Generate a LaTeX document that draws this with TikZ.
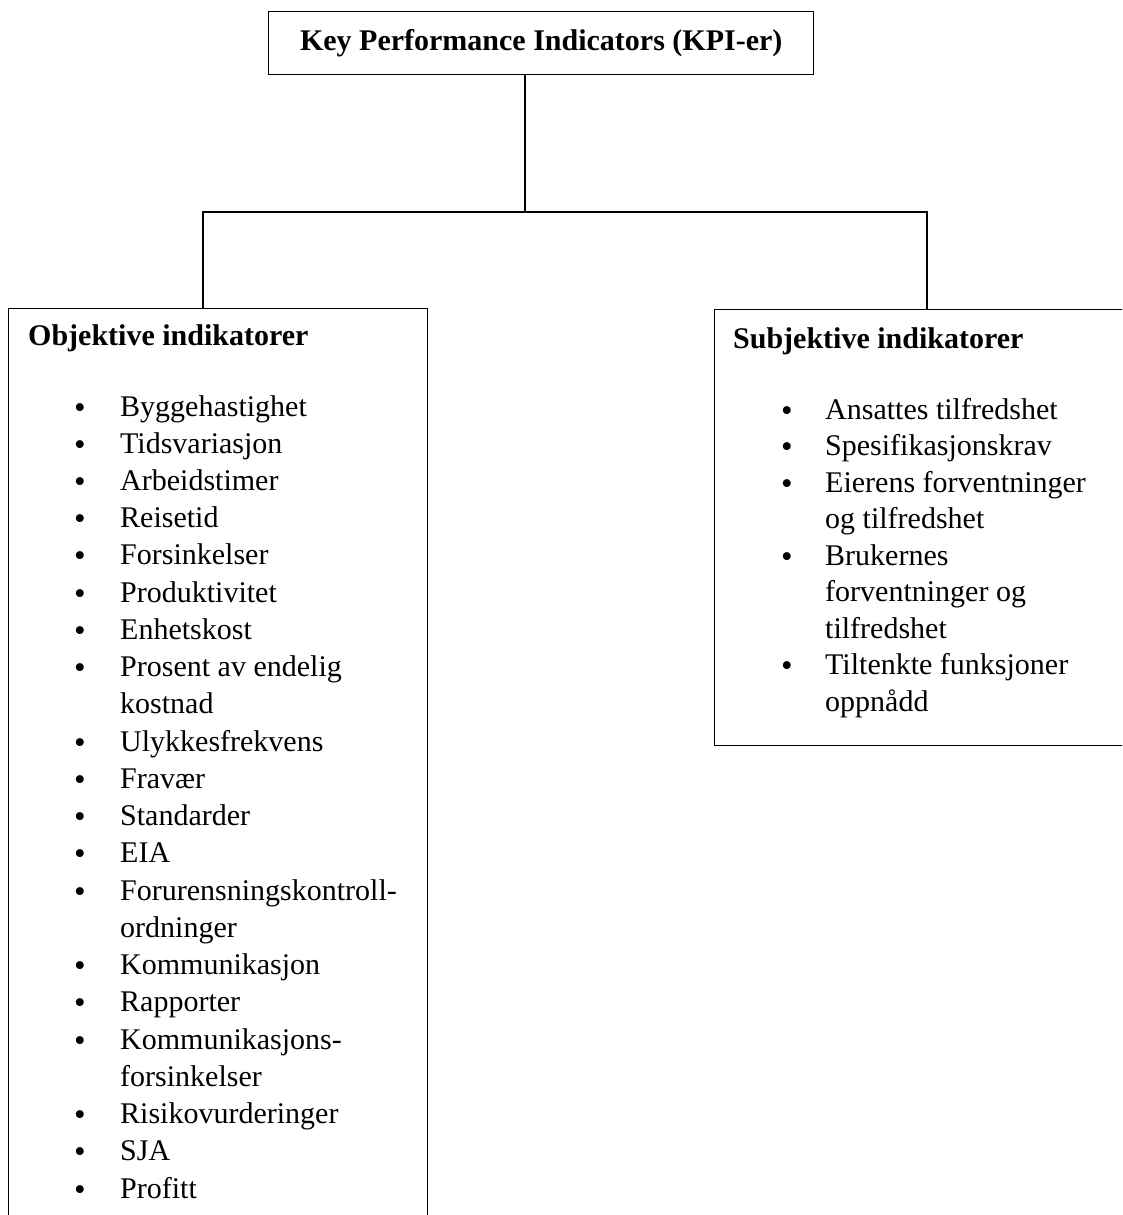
\documentclass[tikz,border=0pt]{standalone}
\usepackage{fontspec}
\setmainfont{Liberation Serif}
\begin{document}
\begin{tikzpicture}[x=1pt,y=-1pt,
  frame/.style={draw=black,line width=1.4pt,rectangle,inner sep=0pt},
  link/.style={draw=black,line width=1.4pt},
  head/.style={anchor=base west,inner sep=0pt,font=\fontsize{30}{36}\selectfont\bfseries},
  item/.style={anchor=base west,inner sep=0pt,font=\fontsize{30}{36}\selectfont},
  dot/.style={anchor=base,inner sep=0pt,font=\fontsize{33}{36}\selectfont}]
\useasboundingbox (0,0) rectangle (1122,1215);
\clip (0,0) rectangle (1122,1215);
\fill[white] (0,0) rectangle (1122,1215);

% top box
\node[frame,minimum width=545,minimum height=63,anchor=north west,
      font=\fontsize{30}{36}\selectfont\bfseries] (kpi) at (268,11)
      {Key Performance Indicators (KPI-er)};

% the two category boxes
\node[frame,minimum width=419,minimum height=930,anchor=north west] (obj) at (8,308) {};
\node[frame,minimum width=430,minimum height=436,anchor=north west] (subj) at (714,309) {};

% tree connectors
\coordinate (j) at (525,212);
\coordinate (jl) at (203,212);
\coordinate (jr) at (927,212);
\draw[link] (kpi.south -| j) -- (j);
\draw[link] (jl |- obj.north) -- (jl) -- (jr) -- (jr |- subj.north);

% headings
\node[head] (objh) at (28,345) {Objektive indikatorer};
\node[head] (subjh) at (733,348) {Subjektive indikatorer};

% objective list
\foreach \b/\t [count=\i from 0] in {
  1/Byggehastighet, 1/Tidsvariasjon, 1/Arbeidstimer, 1/Reisetid,
  1/Forsinkelser, 1/Produktivitet, 1/Enhetskost, 1/Prosent av endelig,
  0/kostnad, 1/Ulykkesfrekvens, 1/Fravær, 1/Standarder, 1/EIA,
  1/Forurensningskontroll-, 0/ordninger, 1/Kommunikasjon, 1/Rapporter,
  1/Kommunikasjons-, 0/forsinkelser, 1/Risikovurderinger, 1/SJA, 1/Profitt} {
  \node[item] (o\i) at (120,{416+37.24*\i}) {\t};
  \ifnum\b=1 \node[dot] (ob\i) at (80,{418+37.24*\i}) {\textbullet}; \fi
}

% subjective list
\foreach \b/\t [count=\i from 0] in {
  1/Ansattes tilfredshet, 1/Spesifikasjonskrav, 1/Eierens forventninger,
  0/og tilfredshet, 1/Brukernes, 0/forventninger og, 0/tilfredshet,
  1/Tiltenkte funksjoner, 0/oppnådd} {
  \node[item] (s\i) at (825,{419+36.5*\i}) {\t};
  \ifnum\b=1 \node[dot] (sb\i) at (787,{421+36.5*\i}) {\textbullet}; \fi
}
\end{tikzpicture}
\end{document}
